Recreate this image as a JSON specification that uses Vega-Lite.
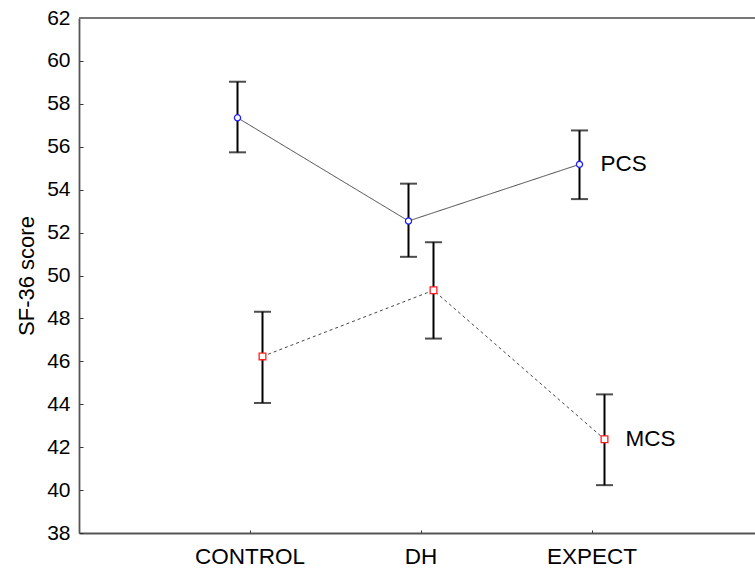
{
  "$schema": "https://vega.github.io/schema/vega-lite/v6.json",
  "autosize": {"type": "none"},
  "padding": {"left": 79, "top": 18, "right": 0, "bottom": 37},
  "width": 676,
  "height": 515,
  "background": "white",
  "config": {
    "view": {"stroke": null},
    "font": "Liberation Sans",
    "axis": {"domain": true, "domainColor": "#555555", "domainWidth": 1.8, "grid": false, "labelColor": "#000000", "titleColor": "#000000", "tickColor": "#333333", "labelFont": "Liberation Sans", "titleFont": "Liberation Sans"}
  },
  "data": {
    "values": [
      {"group": "CONTROL", "series": "PCS", "mean": 57.35, "lo": 55.74, "hi": 59.03},
      {"group": "DH", "series": "PCS", "mean": 52.54, "lo": 50.87, "hi": 54.28},
      {"group": "EXPECT", "series": "PCS", "mean": 55.18, "lo": 53.56, "hi": 56.76},
      {"group": "CONTROL", "series": "MCS", "mean": 46.23, "lo": 44.06, "hi": 48.31},
      {"group": "DH", "series": "MCS", "mean": 49.31, "lo": 47.06, "hi": 51.55},
      {"group": "EXPECT", "series": "MCS", "mean": 42.37, "lo": 40.23, "hi": 44.46}
    ]
  },
  "layer": [
    {
      "mark": {"type": "rule", "color": "#777777", "strokeWidth": 2},
      "encoding": {"y": {"datum": 62, "type": "quantitative"}}
    },
    {
      "encoding": {
        "x": {
          "field": "group", "type": "nominal", "sort": ["CONTROL", "DH", "EXPECT"],
          "scale": {"type": "band", "paddingInner": 0, "paddingOuter": 0.5, "range": [0, 684]},
          "axis": {"title": null, "labelAngle": 0, "labelFontSize": 22.5, "tickSize": -3, "labelPadding": 15, "tickWidth": 1}
        },
        "xOffset": {
          "field": "series", "type": "nominal", "sort": ["PCS", "MCS"],
          "scale": {"type": "band", "paddingInner": 0, "paddingOuter": 0, "range": [60.5, 110.5]}
        }
      },
      "layer": [
        {
          "mark": {"type": "line", "color": "#444444", "strokeWidth": 1},
          "encoding": {
            "y": {"field": "mean", "type": "quantitative", "scale": {"domain": [38, 62], "nice": false, "zero": false},
              "axis": {"title": "SF-36 score", "titleFontSize": 22, "titleFontWeight": "normal", "titlePadding": 8, "labelFontSize": 21, "values": [38, 40, 42, 44, 46, 48, 50, 52, 54, 56, 58, 60, 62], "tickSize": -4, "labelPadding": 13, "tickWidth": 1}},
            "strokeDash": {"field": "series", "type": "nominal", "scale": {"domain": ["PCS", "MCS"], "range": [[1, 0], [3, 3]]}, "legend": null}
          }
        },
        {
          "mark": {"type": "rule", "color": "#000000", "strokeWidth": 2},
          "encoding": {
            "y": {"field": "lo", "type": "quantitative"},
            "y2": {"field": "hi"}
          }
        },
        {
          "mark": {"type": "tick", "color": "#000000", "thickness": 2, "size": 17},
          "encoding": {"y": {"field": "lo", "type": "quantitative"}}
        },
        {
          "mark": {"type": "tick", "color": "#000000", "thickness": 2, "size": 17},
          "encoding": {"y": {"field": "hi", "type": "quantitative"}}
        },
        {
          "mark": {"type": "point", "filled": false, "fill": "white", "fillOpacity": 1, "strokeWidth": 1.3, "opacity": 1},
          "encoding": {
            "y": {"field": "mean", "type": "quantitative"},
            "shape": {"field": "series", "type": "nominal", "scale": {"domain": ["PCS", "MCS"], "range": ["circle", "square"]}, "legend": null},
            "stroke": {"field": "series", "type": "nominal", "scale": {"domain": ["PCS", "MCS"], "range": ["#2020ff", "#ff2020"]}, "legend": null},
            "size": {"field": "series", "type": "nominal", "scale": {"domain": ["PCS", "MCS"], "range": [38, 45]}, "legend": null}
          }
        },
        {
          "transform": [{"filter": "datum.group === 'EXPECT'"}],
          "mark": {"type": "text", "align": "left", "baseline": "middle", "dx": 21, "fontSize": 22.5, "color": "#000000", "font": "Liberation Sans"},
          "encoding": {
            "y": {"field": "mean", "type": "quantitative"},
            "text": {"field": "series"}
          }
        }
      ]
    }
  ]
}
